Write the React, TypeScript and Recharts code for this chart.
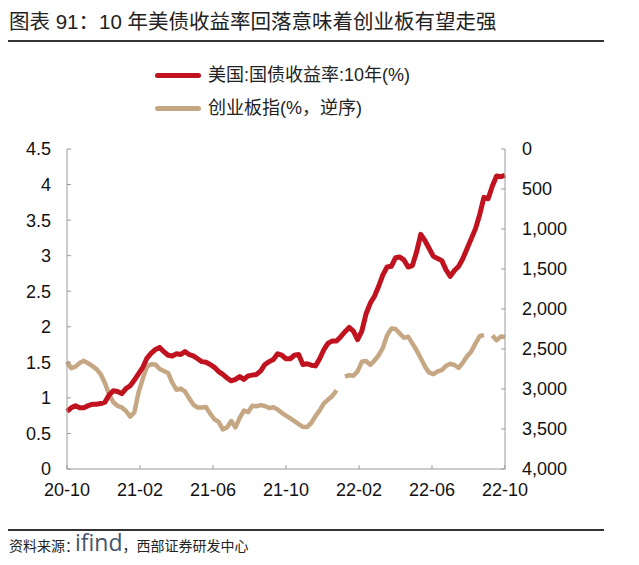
import React from 'react';
import { LineChart, Line, XAxis, YAxis } from 'recharts';

const titleText = '图表 91：10 年美债收益率回落意味着创业板有望走强';
const yieldName = '美国:国债收益率:10年(%)';
const gemName = '创业板指(%，逆序)';

const monthTicks = [0, 4, 8, 12, 16, 20, 24];
const monthTickLabels = ['20-10', '21-02', '21-06', '21-10', '22-02', '22-06', '22-10'];
const leftTicks = [0, 0.5, 1, 1.5, 2, 2.5, 3, 3.5, 4, 4.5];
const rightTicks = [0, 500, 1000, 1500, 2000, 2500, 3000, 3500, 4000];

// weekly observations, Oct 2020 – Oct 2022
const yieldValues = [
  0.81, 0.86, 0.89, 0.86, 0.86, 0.89, 0.91, 0.91, 0.92, 0.94,
  1.04, 1.10, 1.09, 1.06, 1.13, 1.17, 1.25, 1.34, 1.43, 1.56,
  1.63, 1.68, 1.71, 1.65, 1.60, 1.59, 1.62, 1.61, 1.65, 1.61,
  1.59, 1.55, 1.51, 1.50, 1.47, 1.43, 1.37, 1.33, 1.28, 1.24,
  1.26, 1.30, 1.26, 1.31, 1.32, 1.33, 1.38, 1.47, 1.51, 1.54,
  1.62, 1.60, 1.55, 1.55, 1.60, 1.61, 1.47, 1.48, 1.46, 1.45,
  1.55, 1.68, 1.77, 1.80, 1.80, 1.86, 1.93, 1.99, 1.94, 1.82,
  1.94, 2.18, 2.33, 2.43, 2.57, 2.73, 2.84, 2.85, 2.97, 2.98,
  2.94, 2.84, 2.86, 3.05, 3.30, 3.21, 3.10, 2.99, 2.96, 2.93,
  2.80, 2.71, 2.79, 2.85, 2.96, 3.10, 3.24, 3.38, 3.58, 3.82,
  3.80, 3.98, 4.12, 4.11, 4.13,
];

const gemValues: (number | null)[] = [
  2660, 2740, 2720, 2675, 2648, 2678, 2712, 2752, 2815, 2925,
  3070, 3165, 3210, 3230, 3275, 3345, 3290, 3040, 2870, 2718,
  2690, 2695, 2750, 2775, 2800, 2920, 3010, 2995, 3030, 3115,
  3195, 3232, 3230, 3225, 3308, 3378, 3410, 3505, 3480, 3400,
  3480, 3360, 3270, 3290, 3210, 3215, 3202, 3213, 3237, 3228,
  3255, 3298, 3333, 3368, 3403, 3438, 3473, 3475, 3425, 3340,
  3268, 3180, 3132, 3088, 3015, null, 2846, 2828, 2834, 2780,
  2660, 2650, 2698, 2645, 2578, 2485, 2330, 2245, 2250, 2305,
  2360, 2346, 2430, 2515, 2615, 2720, 2795, 2815, 2780, 2763,
  2710, 2685, 2700, 2735, 2670, 2590, 2530, 2430, 2340, 2325,
  null, 2330, 2390, 2345, 2350,
];

const RED = '#C0121F';
const TAN = '#C5A784';
const AXIS = '#9a9a9a';
const FONT = '"Liberation Sans", Arial, "Noto Sans CJK SC", sans-serif';

const data = yieldValues.map((v, i) => ({
  t: (i * 24) / (yieldValues.length - 1),
  yield: v,
  gem: gemValues[i],
}));

const tickStyle = { fontSize: 18, fill: '#111', fontFamily: FONT };

export default function App() {
  return (
    <div style={{ position: 'absolute', left: 0, top: 0, width: 639, height: 565, background: '#fff', overflow: 'hidden' }}>
      <div style={{ position: 'absolute', left: 9, top: 9, fontSize: 20.5, fontFamily: FONT, color: '#222', whiteSpace: 'nowrap', lineHeight: '26px' }}>
        {titleText}
      </div>
      <div style={{ position: 'absolute', left: 8, top: 40, width: 596, height: 1.5, background: '#333' }} />

      <div style={{ position: 'absolute', left: 155, top: 63, fontFamily: FONT, fontSize: 18, color: '#222', lineHeight: '24px' }}>
        <div style={{ display: 'flex', alignItems: 'center', height: 24 }}>
          <div style={{ width: 46, height: 5, background: RED, borderRadius: 3, marginRight: 7 }} />
          <span>{yieldName}</span>
        </div>
        <div style={{ display: 'flex', alignItems: 'center', height: 24, marginTop: 9 }}>
          <div style={{ width: 46, height: 5, background: TAN, borderRadius: 3, marginRight: 7 }} />
          <span>{gemName}</span>
        </div>
      </div>

      <div style={{ position: 'absolute', left: 0, top: 0 }}>
        <LineChart width={639} height={565} data={data} margin={{ top: 149, right: 54, bottom: 56, left: 0 }}>
          <XAxis
            dataKey="t"
            type="number"
            domain={[0, 24]}
            ticks={monthTicks}
            tickFormatter={(v: number) => monthTickLabels[monthTicks.indexOf(v)] ?? ''}
            tick={tickStyle}
            stroke={AXIS}
            tickSize={-4}
            tickMargin={18}
            height={40}
            interval={0}
          />
          <YAxis
            yAxisId="left"
            orientation="left"
            domain={[0, 4.5]}
            ticks={leftTicks}
            tick={tickStyle}
            stroke={AXIS}
            tickSize={-4}
            tickMargin={20}
            width={67}
            interval={0}
          />
          <YAxis
            yAxisId="right"
            orientation="right"
            domain={[0, 4000]}
            reversed
            ticks={rightTicks}
            tickFormatter={(v: number) => v.toLocaleString('en-US')}
            tick={{ ...tickStyle, textAnchor: 'start' }}
            stroke={AXIS}
            tickSize={-4}
            tickMargin={21}
            width={80}
            interval={0}
          />
          <Line yAxisId="right" dataKey="gem" stroke={TAN} strokeWidth={4.5} dot={false} isAnimationActive={false} connectNulls={false} strokeLinejoin="round" />
          <Line yAxisId="left" dataKey="yield" stroke={RED} strokeWidth={5} dot={false} isAnimationActive={false} strokeLinejoin="round" />
        </LineChart>
      </div>

      <div style={{ position: 'absolute', left: 8, top: 529, width: 596, height: 1.5, background: '#333' }} />
      <div style={{ position: 'absolute', left: 9, top: 532, fontFamily: FONT, color: '#222', whiteSpace: 'nowrap', display: 'flex', alignItems: 'baseline', lineHeight: '20px', height: 20 }}>
        <span style={{ fontSize: 14, lineHeight: '20px' }}>资料来源：</span>
        <span style={{ fontSize: 23, lineHeight: '20px', color: '#44546a', fontFamily: '"Open Sans", "DejaVu Sans", sans-serif', marginLeft: -4 }}>ifind</span>
        <span style={{ fontSize: 14, lineHeight: '20px' }}>，西部证券研发中心</span>
      </div>
    </div>
  );
}
